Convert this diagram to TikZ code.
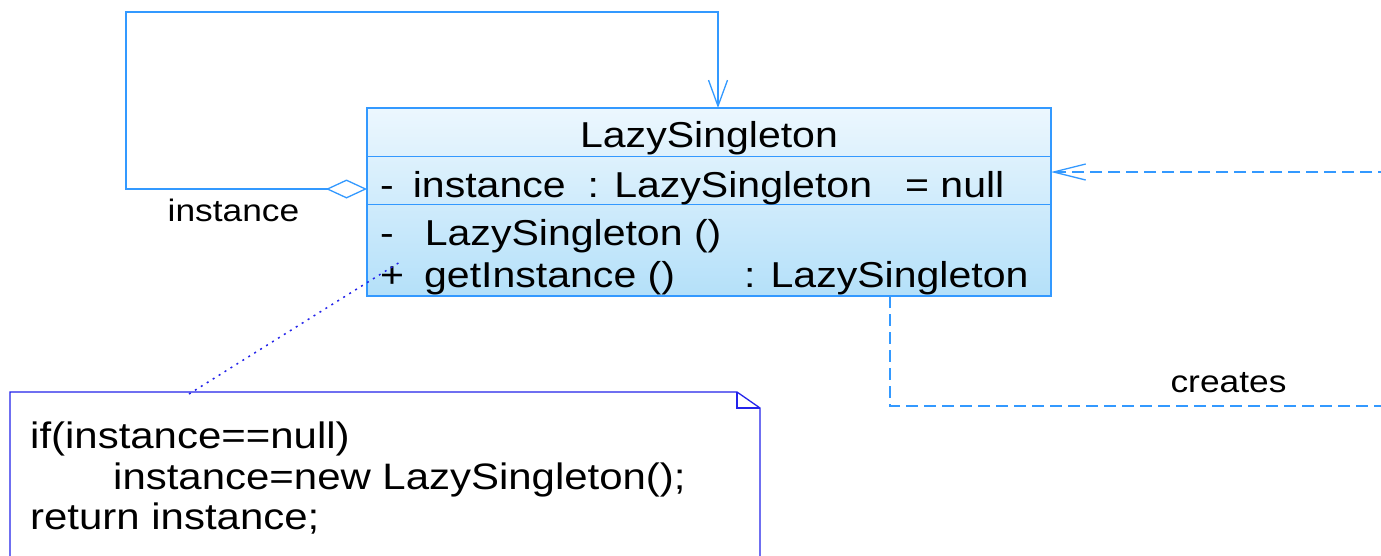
\documentclass[tikz,border=0pt]{standalone}
\usepackage{fontspec}
\setmainfont[FakeStretch=1.14]{Liberation Sans}
\usetikzlibrary{arrows.meta}
\definecolor{umlblue}{RGB}{51,153,255}
\definecolor{noteblue}{RGB}{35,35,235}
\definecolor{clstop}{RGB}{236,247,254}
\definecolor{clsbot}{RGB}{180,224,249}

\begin{document}
\begin{tikzpicture}[x=1pt,y=-1pt,
  classtext/.style={font=\fontsize{36}{43}\selectfont, anchor=base west, inner sep=0pt},
  notetext/.style={font=\fontsize{36.8}{40}\selectfont, anchor=base west, inner sep=0pt},
  lbl/.style={font=\fontsize{31}{37}\selectfont, anchor=base, inner sep=0pt},
  umlline/.style={draw=umlblue, line width=1.3pt},
  dep/.style={draw=umlblue, line width=1.3pt, dash pattern=on 12pt off 6pt},
  anchorline/.style={draw=noteblue, line width=1.5pt, dash pattern=on 2pt off 5pt},
]
\clip (0,0) rectangle (1381,555);
\fill[white] (0,0) rectangle (1381,555);

% class LazySingleton
\node[draw=umlblue, line width=1.3pt, top color=clstop, bottom color=clsbot,
      minimum width=684pt, minimum height=188pt, inner sep=0pt] (cls) at (709,202) {};
\draw[umlline] (cls.north west) ++(0,49) -- ++(684,0);
\draw[umlline] (cls.north west) ++(0,97) -- ++(684,0);

\node[classtext, anchor=base] (title) at (709,147) {LazySingleton};
\node[classtext] (attr) at (380,197) {-\hspace{19pt}instance\hspace{22pt}: LazySingleton\hspace{33pt}= null};
\node[classtext] (op1) at (380,245) {-\hspace{31pt}LazySingleton ()};
\node[classtext] (op2) at (380,287) {+\hspace{20pt}getInstance ()\hspace{69pt}: LazySingleton};

% self association (aggregation)
\coordinate (attrL) at (367,189);
\coordinate (clsTop) at (718,108);
\draw[umlline, {Diamond[open,length=41pt,width=19pt]}-{Straight Barb[length=26pt,width=19pt]}]
  (attrL) -- (126,189) |- (718,12) -- (clsTop);
\node[lbl] (instlbl) at (233.5,221) {instance};

% creates dependency
\coordinate (depStart) at (890,296);
\coordinate (depEnd) at (1051,172);
\draw[dep, -{Straight Barb[length=32pt,width=16pt]}]
  (depStart) -- (890,406) -- (1400,406) -- (1400,172) -- (depEnd);
\node[lbl] (crlbl) at (1228.5,392) {creates};

% note
\draw[noteblue, line width=1.3pt, fill=white] (10,570) -- (10,392) -- (737,392) -- (760,408) -- (760,570);
\draw[noteblue, line width=1.3pt] (737,392) -- (737,408) -- (760,408);
\node[notetext] (n1) at (30,448) {if(instance==null)};
\node[notetext] (n2) at (113,489) {instance=new LazySingleton();};
\node[notetext] (n3) at (30,529) {return instance;};

\coordinate (noteAnchor) at (189,394);
\coordinate (opAnchor) at (400,262);
\draw[anchorline] (noteAnchor) -- (opAnchor);
\end{tikzpicture}
\end{document}
